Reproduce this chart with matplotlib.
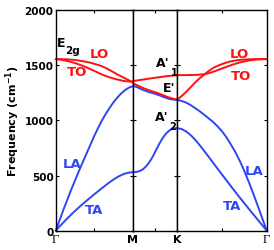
import matplotlib
matplotlib.use('Agg')
import matplotlib.pyplot as plt
import numpy as np

# path segment lengths (Gamma-M, M-K, K-Gamma)
seg_len = [0.577, 0.333, 0.667]
seg_frac = np.linspace(0, 1, 21)

# Gamma -> M
gm_LA = [0, 95, 190, 280, 370, 455, 540, 620, 700, 780, 860,
         932, 1000, 1060, 1115, 1165, 1208, 1245, 1275, 1297, 1310]
gm_TA = [0, 38, 75, 111, 146, 179, 211, 242, 272, 301, 330,
         358, 386, 413, 440, 464, 486, 504, 518, 527, 530]
gm_LO = [1555, 1555, 1554, 1553, 1550, 1547, 1542, 1536, 1530, 1522, 1512,
         1502, 1490, 1474, 1455, 1436, 1415, 1398, 1380, 1362, 1345]
gm_TO = [1555, 1551, 1545, 1538, 1530, 1519, 1507, 1494, 1480, 1464, 1448,
         1431, 1415, 1402, 1390, 1379, 1370, 1362, 1355, 1352, 1350]
# M -> K
mk_LA = [1312, 1307, 1300, 1290, 1280, 1272, 1265, 1258, 1252, 1246, 1240,
         1233, 1226, 1218, 1210, 1203, 1196, 1191, 1188, 1186, 1185]
mk_TA = [530, 531, 534, 540, 550, 565, 585, 610, 640, 675, 715,
         755, 793, 828, 858, 883, 902, 916, 925, 929, 930]
mk_LO = [1335, 1327, 1318, 1308, 1298, 1290, 1282, 1275, 1268, 1261, 1255,
         1248, 1240, 1232, 1224, 1216, 1208, 1202, 1196, 1192, 1190]
mk_TO = [1355, 1359, 1362, 1365, 1368, 1371, 1374, 1377, 1380, 1383, 1386,
         1389, 1392, 1394, 1397, 1400, 1402, 1404, 1406, 1408, 1410]
# K -> Gamma
kg_LA = [1185, 1175, 1160, 1137, 1110, 1082, 1050, 1018, 985, 945, 900,
         845, 780, 710, 630, 540, 440, 335, 225, 113, 0]
kg_TA = [930, 920, 898, 865, 823, 774, 722, 669, 615, 561, 508,
         455, 402, 350, 298, 248, 198, 148, 99, 50, 0]
kg_LO = [1190, 1222, 1260, 1302, 1345, 1382, 1415, 1447, 1475, 1494, 1510,
         1524, 1535, 1542, 1548, 1551, 1553, 1554, 1555, 1555, 1555]
kg_TO = [1410, 1410, 1410, 1411, 1412, 1414, 1418, 1427, 1440, 1455, 1470,
         1485, 1500, 1513, 1525, 1534, 1542, 1548, 1552, 1554, 1555]

y_ticks = [0, 500, 1000, 1500, 2000]
point_labels = ['\u0393', 'M', 'K', '\u0393']

RED = '#ff1010'
BLUE = '#2f45f5'

W, H = 274, 251
fig = plt.figure(figsize=(W / 100, H / 100), dpi=100)

left_px, right_px = 55.7, 266.7
top_px, bot_px = 11.0, 231.7
tot = sum(seg_len)
segments = [
    (gm_LA, gm_TA, gm_LO, gm_TO),
    (mk_LA, mk_TA, mk_LO, mk_TO),
    (kg_LA, kg_TA, kg_LO, kg_TO),
]
x0 = left_px
axes = []
for i, (L, data) in enumerate(zip(seg_len, segments)):
    w = (right_px - left_px) * L / tot
    ax = fig.add_axes([x0 / W, 1 - bot_px / H, w / W, (bot_px - top_px) / H])
    x0 += w
    xs = seg_frac * L
    la, ta, lo, to = data
    for ys, c in ((la, BLUE), (ta, BLUE), (lo, RED), (to, RED)):
        ax.plot(xs, ys, color=c, lw=1.4, solid_capstyle='round',
                solid_joinstyle='round', clip_on=False)
    ax.set_xlim(0, L)
    ax.set_ylim(0, 2000)
    ax.set_yticks(y_ticks)
    ax.set_xticks([L / 2])
    ax.set_xticklabels([])
    ax.tick_params(direction='in', top=True, right=True, length=2.5, width=0.8,
                   labelsize=7.5, pad=1.5)
    for s in ax.spines.values():
        s.set_linewidth(1.0)
        s.set_zorder(3)
    if i == 0:
        for t in ax.get_yticklabels():
            t.set_fontweight('bold')
        ax.set_ylabel('Frequency (cm$^{\\mathbf{-1}}$)', fontsize=8, fontweight='bold',
                      labelpad=2)
    else:
        ax.set_yticklabels([])
    axes.append(ax)

# high-symmetry point labels
xb = [left_px]
for L in seg_len:
    xb.append(xb[-1] + (right_px - left_px) * L / tot)
for xp, lab in zip(xb, point_labels):
    if lab == '\u0393':
        fig.text(xp / W, 1 - 243.5 / H, lab, fontsize=9, family='Liberation Serif',
                 ha='center', va='baseline')
    else:
        fig.text(xp / W, 1 - 243 / H, lab, fontsize=8, fontweight='bold',
                 ha='center', va='baseline')

def ftxt(x, y, s, color, size=9.5, ha='center'):
    fig.text(x / W, 1 - y / H, s, color=color, fontsize=size, fontweight='bold',
             ha=ha, va='center')

ftxt(61.5, 43.5, 'E', 'black', size=9)
ftxt(72.5, 51, '2g', 'black', size=7.5)
ftxt(99, 55, 'LO', RED)
ftxt(77, 73, 'TO', RED)
ftxt(156, 63.5, "A'", 'black', size=9, ha='left')
ftxt(174, 73, '1', 'black', size=7)
ftxt(169, 88, "E'", 'black', size=9)
ftxt(155, 117.5, "A'", 'black', size=9, ha='left')
ftxt(173, 127, '2', 'black', size=7)
ftxt(239, 54, 'LO', RED)
ftxt(241, 77, 'TO', RED)
ftxt(72, 165, 'LA', BLUE)
ftxt(94, 210, 'TA', BLUE)
ftxt(254, 172, 'LA', BLUE)
ftxt(232, 207, 'TA', BLUE)

fig.savefig('out.png', dpi=100)
